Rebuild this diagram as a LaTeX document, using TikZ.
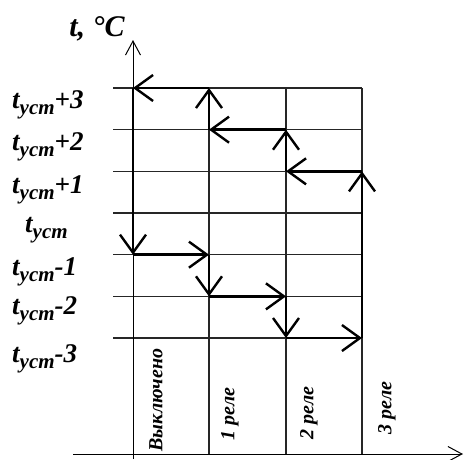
\documentclass[tikz,border=0pt]{standalone}
\usepackage{fontspec}
\setmainfont{Liberation Serif}
\usetikzlibrary{arrows.meta}

\tikzset{
  gridline/.style={line width=1.3pt, black!85},
  flow/.style={line width=2.6pt, black,
    -{Straight Barb[length=18pt,width=26pt,line width=2.4pt]}},
  axis/.style={line width=1pt, -{Straight Barb[length=14pt,width=15pt,line width=1pt]}},
  level/.style={anchor=base west, inner sep=0pt,
    font=\fontsize{27}{27}\selectfont\bfseries\itshape},
  relay/.style={rotate=90, inner sep=0pt,
    font=\fontsize{20}{20}\selectfont\bfseries\itshape},
}
\newcommand{\tust}[1]{t\raisebox{-0.25em}{\fontsize{21}{21}\selectfont уст}#1}

\begin{document}
\begin{tikzpicture}[x=1pt,y=-1pt]
  \useasboundingbox (0,0) rectangle (464,459);
  % grid points: columns = relay states, rows = temperature levels
  \foreach \c/\xc in {0/133,1/209,2/286,3/362}
    \foreach \r in {0,...,6}
      \coordinate (g-\c-\r) at (\xc,{88+41.67*\r});

  % grid
  \foreach \r in {0,...,6}
    \draw[gridline] (113,{88+41.67*\r}) -- (g-3-\r);
  \foreach \c in {1,2,3}
    \draw[gridline] (g-\c-0) -- (g-\c-6) -- ++(0,116);

  % axes
  \draw[axis] (133,459) coordinate (yfoot) -- (133,40) coordinate (ytip);
  \draw[axis] (73,454) coordinate (xfoot) -- (463,454) coordinate (xtip);
  \node[anchor=base, inner sep=0pt, font=\fontsize{30}{30}\selectfont\bfseries\itshape]
    (unit) at (97,36) {t, °C};

  % level labels
  \node[level] (l-p3) at (12,108) {\tust{+3}};
  \node[level] (l-p2) at (12,150) {\tust{+2}};
  \node[level] (l-p1) at (12,193) {\tust{+1}};
  \node[level] (l-0)  at (25,232) {\tust{}};
  \node[level] (l-m1) at (12,275) {\tust{-1}};
  \node[level] (l-m2) at (12,314) {\tust{-2}};
  \node[level] (l-m3) at (12,362) {\tust{-3}};

  % relay states
  \node[relay] (s-off) at (156,400) {Выключено};
  \node[relay] (s-1)   at (230,414) {1 реле};
  \node[relay] (s-2)   at (309,413) {2 реле};
  \node[relay] (s-3)   at (387,408) {3 реле};

  % heating up: relays switch off
  \draw[flow] (g-3-6) -- (g-3-2);
  \draw[flow] (g-3-2) -- (g-2-2);
  \draw[flow] (g-2-2) -- (g-2-1);
  \draw[flow] (g-2-1) -- (g-1-1);
  \draw[flow] (g-1-1) -- (g-1-0);
  \draw[flow] (g-1-0) -- (g-0-0);
  % cooling down: relays switch on
  \draw[flow] (g-0-0) -- (g-0-4);
  \draw[flow] (g-0-4) -- (g-1-4);
  \draw[flow] (g-1-4) -- (g-1-5);
  \draw[flow] (g-1-5) -- (g-2-5);
  \draw[flow] (g-2-5) -- (g-2-6);
  \draw[flow] (g-2-6) -- (g-3-6);
\end{tikzpicture}
\end{document}
